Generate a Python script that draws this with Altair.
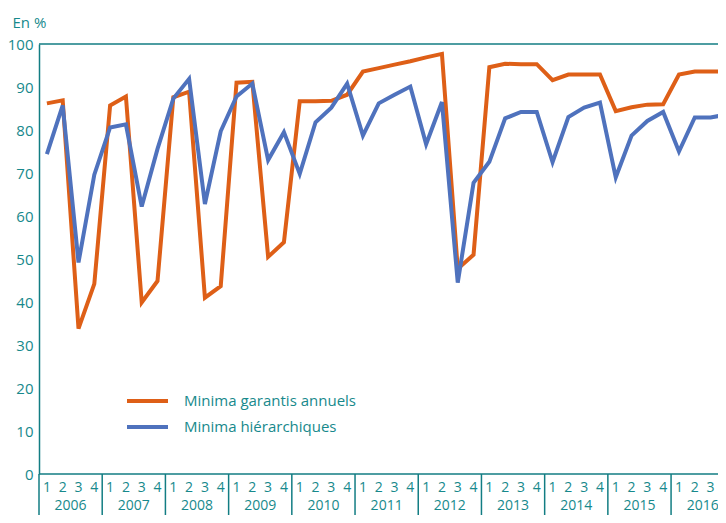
import altair as alt
import pandas as pd

years = list(range(2006, 2017))
quarter_labels = ["1", "2", "3", "4"]
series_names = ["Minima garantis annuels", "Minima hiérarchiques"]
series_colors = ["#DE5F17", "#4F72BD"]

garantis = [
    86.2, 86.9, 33.8, 44.2,
    85.7, 87.8, 39.9, 44.9,
    87.6, 88.9, 41.0, 43.7,
    91.0, 91.2, 50.5, 53.9,
    86.7, 86.7, 86.8, 88.2,
    93.6, 94.4, 95.2, 96.0,
    96.9, 97.7, 47.7, 51.0,
    94.6, 95.4, 95.3, 95.3,
    91.6, 92.9, 92.9, 92.9,
    84.4, 85.3, 85.9, 86.0,
    92.9, 93.6, 93.6, 93.6,
]
hierarchiques = [
    74.4, 85.7, 49.2, 69.6,
    80.6, 81.3, 62.2, 75.6,
    87.3, 91.9, 62.8, 79.7,
    87.8, 90.8, 73.0, 79.5,
    69.8, 81.8, 85.2, 90.8,
    78.7, 86.2, 88.2, 90.1,
    76.7, 86.5, 44.5, 67.7,
    72.6, 82.7, 84.2, 84.2,
    72.5, 83.0, 85.2, 86.4,
    69.0, 78.7, 82.1, 84.2,
    75.0, 82.9, 82.9, 83.6,
]
y_ticks = list(range(0, 101, 10))

TEAL_TEXT = "#17898C"
TEAL_LINE = "#127D83"
FONT = "Open Sans"

rows = []
for i, (g, h) in enumerate(zip(garantis, hierarchiques)):
    rows.append({"pos": i + 0.5, "serie": series_names[0], "valeur": g})
    rows.append({"pos": i + 0.5, "serie": series_names[1], "valeur": h})
df = pd.DataFrame(rows)

n_q = len(garantis)
q_df = pd.DataFrame({"pos": [i + 0.5 for i in range(n_q)],
                     "label": [quarter_labels[i % 4] for i in range(n_q)]})
yr_df = pd.DataFrame({"pos": [4 * k + 2 for k in range(len(years))],
                      "label": [str(y) for y in years]})
sep_df = pd.DataFrame({"pos": [4 * k for k in range(len(years))]})

W, H = 679, 430
xscale = alt.Scale(domain=[0, 42.97], nice=False, zero=False)
yscale = alt.Scale(domain=[0, 100], nice=False)

lines = alt.Chart(df).mark_line(strokeWidth=4, clip=True).encode(
    x=alt.X("pos:Q", scale=xscale, axis=None),
    y=alt.Y("valeur:Q", scale=yscale,
            axis=alt.Axis(values=y_ticks, title="En %", titleAngle=0,
                          titleX=-27, titleY=-17, titleAlign="left",
                          titleBaseline="alphabetic", titleFontSize=15,
                          titleFontWeight="normal", titleColor=TEAL_TEXT,
                          titleFont=FONT,
                          labelFontSize=15, labelColor=TEAL_TEXT, labelFont=FONT,
                          labelPadding=6, ticks=False, grid=False,
                          domainColor=TEAL_LINE, domainWidth=1.5)),
    color=alt.Color("serie:N",
                    scale=alt.Scale(domain=series_names, range=series_colors),
                    legend=None),
)

frame_df = pd.DataFrame({"v": [0, 100]})
frame = alt.Chart(frame_df).mark_rule(color=TEAL_LINE, strokeWidth=1.5).encode(
    y=alt.Y("v:Q", scale=yscale))

seps = alt.Chart(sep_df).mark_rule(color=TEAL_LINE, strokeWidth=1.5).encode(
    x=alt.X("pos:Q", scale=xscale, axis=None),
    y=alt.value(H), y2=alt.value(H + 42))

q_text = alt.Chart(q_df).mark_text(fontSize=14, font=FONT, color=TEAL_TEXT,
                                   baseline="middle").encode(
    x=alt.X("pos:Q", scale=xscale, axis=None), y=alt.value(H + 14), text="label:N")

yr_text = alt.Chart(yr_df).mark_text(fontSize=14, font=FONT, color=TEAL_TEXT,
                                     baseline="middle").encode(
    x=alt.X("pos:Q", scale=xscale, axis=None), y=alt.value(H + 32), text="label:N")

# legend drawn by hand (one row per series)
leg_layers = []
for k, name in enumerate(series_names):
    ldf = pd.DataFrame({"serie": [name]})
    ly = 357 + 26 * k
    leg_layers.append(alt.Chart(ldf).mark_rule(strokeWidth=4, color=series_colors[k]).encode(
        x=alt.value(88), x2=alt.value(129), y=alt.value(ly)))
    leg_layers.append(alt.Chart(ldf).mark_text(fontSize=15, font=FONT, color=TEAL_TEXT,
                                               align="left", baseline="middle").encode(
        x=alt.value(145), y=alt.value(ly), text="serie:N"))

chart = alt.layer(lines, frame, seps, q_text, yr_text, *leg_layers).properties(
    width=W, height=H,
    autosize=alt.AutoSizeParams(type="none"),
    padding={"left": 31, "top": 36, "right": 0, "bottom": 41},
    background="white",
).configure_view(stroke=None)

chart.save("out.html", embed_options={"renderer": "svg", "actions": False})
